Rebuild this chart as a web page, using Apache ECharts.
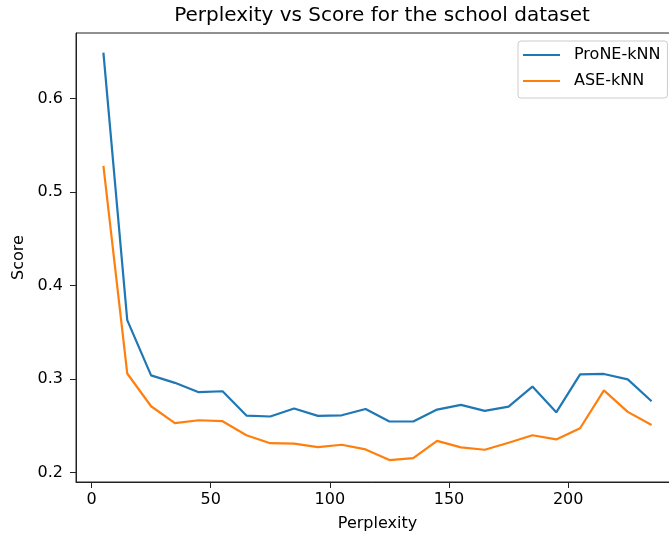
<!DOCTYPE html>
<html>
<head>
<meta charset="utf-8">
<script src="https://cdn.jsdelivr.net/npm/echarts@6/dist/echarts.min.js"></script>
<style>
html,body{margin:0;padding:0;background:#fff;}
#chart{width:669px;height:538px;}
</style>
</head>
<body>
<div id="chart"></div>
<script>
const perplexity = [5,15,25,35,45,55,65,75,85,95,105,115,125,135,145,155,165,175,185,195,205,215,225,235];
const proneKnn = [0.649,0.363,0.304,0.296,0.286,0.287,0.261,0.260,0.2685,0.2607,0.2613,0.268,0.2547,0.2547,0.2674,0.2724,0.266,0.2706,0.292,0.2645,0.305,0.3055,0.2997,0.2763];
const aseKnn = [0.528,0.306,0.271,0.253,0.256,0.255,0.240,0.2315,0.231,0.2273,0.2298,0.2248,0.2134,0.2156,0.234,0.227,0.2245,0.232,0.240,0.2355,0.2475,0.288,0.265,0.251];
const xTicks = [0,50,100,150,200];
const yTicks = [0.2,0.3,0.4,0.5,0.6];
const seriesNames = ['ProNE-kNN','ASE-kNN'];

const font = 'DejaVu Sans';
const chart = echarts.init(document.getElementById('chart'), null, {renderer:'canvas'});
chart.setOption({
  animation:false,
  backgroundColor:'#fff',
  title:{
    text:'Perplexity vs Score for the school dataset',
    left:377, top:1, textAlign:'center',
    textStyle:{fontFamily:font,fontSize:20,fontWeight:'normal',color:'#000'}
  },
  legend:{
    orient:'vertical', left:518, top:41,
    data:seriesNames,
    icon:'rect', itemWidth:37, itemHeight:2, itemGap:6,
    padding:[4,7,7,5],
    borderColor:'#cccccc', borderWidth:1, borderRadius:3,
    textStyle:{fontFamily:font,fontSize:16,lineHeight:20,color:'#000',padding:[0,0,0,9]}
  },
  grid:{
    left:76, top:33, width:603, height:449,
    outerBoundsMode:'none', containLabel:false,
    show:true, borderColor:'#222', borderWidth:1, backgroundColor:'transparent'
  },
  xAxis:{
    type:'value', min:-6.5, max:246.5,
    name:'Perplexity', nameLocation:'middle', nameGap:34,
    nameTextStyle:{fontFamily:font,fontSize:16,color:'#000'},
    axisLine:{show:true,onZero:false,lineStyle:{color:'#222',width:1}},
    splitLine:{show:false},
    axisTick:{show:true,length:6,lineStyle:{color:'#222'},customValues:xTicks},
    axisLabel:{fontFamily:font,fontSize:16,color:'#000',margin:10,customValues:xTicks}
  },
  yAxis:{
    type:'value', min:0.19, max:0.67,
    name:'Score', nameLocation:'middle', nameGap:44, nameRotate:90,
    nameTextStyle:{fontFamily:font,fontSize:16,color:'#000'},
    axisLine:{show:true,onZero:false,lineStyle:{color:'#222',width:1}},
    splitLine:{show:false},
    axisTick:{show:true,length:6,lineStyle:{color:'#222'},customValues:yTicks},
    axisLabel:{fontFamily:font,fontSize:16,color:'#000',margin:13,customValues:yTicks,
      formatter:v=>v.toFixed(1)}
  },
  series:[
    {name:seriesNames[0],type:'line',data:perplexity.map((x,i)=>[x,proneKnn[i]]),
     showSymbol:false,symbol:'none',lineStyle:{width:2.2,color:'#1f77b4'},itemStyle:{color:'#1f77b4'}},
    {name:seriesNames[1],type:'line',data:perplexity.map((x,i)=>[x,aseKnn[i]]),
     showSymbol:false,symbol:'none',lineStyle:{width:2.2,color:'#ff7f0e'},itemStyle:{color:'#ff7f0e'}}
  ]
});
</script>
</body>
</html>
